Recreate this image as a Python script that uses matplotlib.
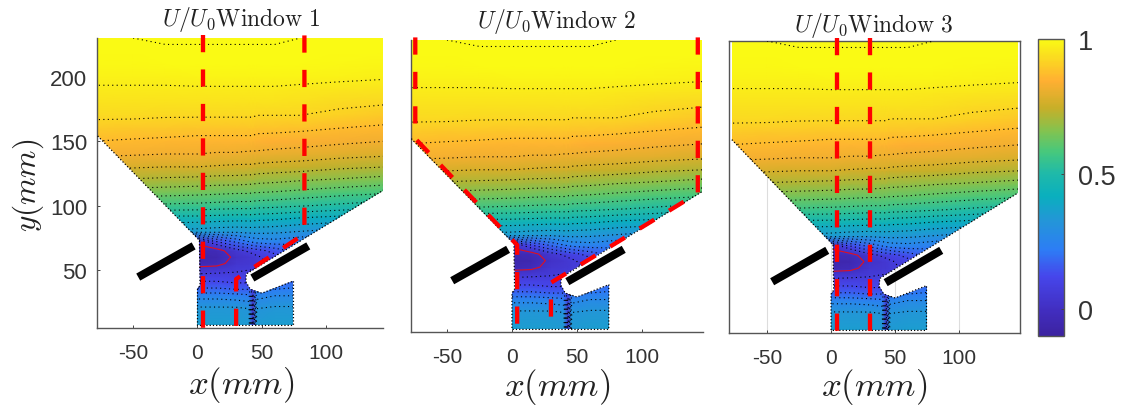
#!/usr/bin/env python3
"""Velocity field U/U0 in three windows, with the window outlines in red."""

import matplotlib
matplotlib.use("Agg")
import matplotlib.pyplot as plt
import numpy as np
from matplotlib.colors import LinearSegmentedColormap
from matplotlib.patches import Polygon

plt.rcParams["font.family"] = ["Liberation Sans", "DejaVu Sans"]
plt.rcParams["mathtext.fontset"] = "cm"

W, H = 1127, 406

X_GRID = [-80, -50, -25, 0, 15, 30, 40, 43, 46, 60, 80, 110, 147]
Y_GRID = [5, 10, 20, 30, 35, 40, 45, 50, 55, 60, 65, 72, 80, 90, 100, 110, 120,
          130, 140, 150, 160, 170, 180, 190, 200, 210, 220, 230]
U_FIELD = [
    [.36, .36, .36, .36, .36, .35, .34, .05, .34, .36, .36, .36, .36],
    [.35, .35, .35, .35, .35, .35, .34, .05, .34, .35, .35, .35, .35],
    [.33, .33, .33, .33, .33, .33, .32, .05, .32, .33, .33, .33, .33],
    [.25, .25, .25, .25, .25, .24, .23, .06, .25, .27, .27, .27, .27],
    [.18, .18, .18, .18, .18, .17, .17, .09, .20, .22, .23, .23, .23],
    [.13, .13, .13, .13, .13, .12, .12, .10, .15, .18, .20, .20, .20],
    [.09, .09, .09, .09, .09, .09, .09, .09, .10, .13, .16, .16, .16],
    [.04, .04, .04, .04, .05, .06, .07, .07, .08, .10, .13, .13, .13],
    [-.04, -.04, -.04, -.04, -.03, .04, .05, .05, .06, .08, .12, .12, .12],
    [-.06, -.06, -.06, -.06, -.05, .02, .04, .05, .06, .10, .13, .13, .13],
    [.20, .18, -.04, -.04, -.03, .05, .08, .09, .10, .14, .20, .16, .14],
    [.30, .28, .10, .02, .12, .18, .22, .23, .24, .25, .23, .20, .18],
    [.38, .37, .36, .35, .34, .335, .34, .34, .34, .335, .32, .30, .28],
    [.47, .46, .45, .45, .445, .44, .44, .44, .435, .43, .415, .40, .38],
    [.57, .565, .56, .555, .55, .545, .545, .545, .54, .535, .525, .51, .49],
    [.65, .645, .64, .635, .63, .625, .625, .62, .62, .615, .605, .59, .575],
    [.72, .715, .71, .705, .70, .70, .695, .695, .69, .685, .675, .665, .65],
    [.78, .775, .77, .77, .765, .76, .76, .76, .755, .75, .745, .73, .72],
    [.83, .825, .82, .82, .815, .815, .81, .81, .81, .805, .80, .79, .78],
    [.87, .865, .86, .855, .855, .855, .855, .855, .85, .845, .84, .83, .82],
    [.90, .895, .895, .89, .89, .89, .89, .89, .885, .885, .88, .87, .86],
    [.93, .93, .925, .925, .925, .925, .925, .925, .92, .92, .92, .91, .895],
    [.945, .945, .945, .945, .945, .945, .945, .945, .945, .945, .94, .93, .925],
    [.965, .965, .965, .965, .965, .965, .965, .965, .965, .965, .96, .955, .95],
    [.98, .98, .98, .985, .985, .985, .985, .985, .985, .985, .985, .98, .975],
    [.995, .995, 1.0, 1.005, 1.005, 1.005, 1.005, 1.005, 1.005, 1.005, 1.0, .995, .99],
    [1.005, 1.01, 1.015, 1.015, 1.015, 1.015, 1.015, 1.015, 1.015, 1.015, 1.01, 1.005, 1.0],
    [1.01, 1.02, 1.025, 1.025, 1.025, 1.025, 1.025, 1.025, 1.025, 1.025, 1.02, 1.015, 1.01],
]
BLACK_LEVELS = [.07, .12, .17, .22, .27, .32, .37, .42, .47, .52, .57, .62, .67,
                .72, .77, .82, .87, .92, .97, 1.02]
RED_LEVELS = [0.0]

# lower edge of the measured area, left top to right top
EDGE_X = [-77.5, 1.5, 2, 0, 0, 74.5, 74.5, 50, 41, 37.5, 38, 146]
EDGE_Y = [154, 73, 38, 35, 7, 7, 41.5, 32, 35, 41, 47, 113]

LEFT_PLATE_X = [-46, -3]
LEFT_PLATE_Y = [44.5, 68.7]
RIGHT_PLATE_X = [42.6, 86]
RIGHT_PLATE_Y = [43.8, 68.7]

# red window outlines, one list of (x, y) runs per panel
WINDOW_1 = [([4.4, 4.4], [232, 5]),
            ([83, 83, 30, 30], [232, 78, 43, 5])]
WINDOW_2 = [([-74.4, -74.4, 4, 4], [232, 154, 72, 5]),
            ([143, 143, 30, 30], [232, 112, 43, 5])]
WINDOW_3 = [([4.6, 4.6], [232, 5]),
            ([30.2, 30.2], [232, 5])]

X_TICKS = [-50, 0, 50, 100]
Y_TICKS = [50, 100, 150, 200]

CMAP_STOPS = [(0.00, "#3c23a0"), (0.08, "#412dbe"), (0.20, "#4646eb"),
              (0.29, "#2d7df5"), (0.39, "#2396d7"), (0.47, "#0aafbe"),
              (0.545, "#1eb9aa"), (0.62, "#46c87d"), (0.69, "#82c350"),
              (0.77, "#c8af28"), (0.86, "#ffaf32"), (0.95, "#fae11e"),
              (1.00, "#fafa14")]
cmap = LinearSegmentedColormap.from_list("field", CMAP_STOPS)


def px_axes(fig, left, right, top, bottom):
    return fig.add_axes([left / W, 1 - bottom / H, (right - left) / W, (bottom - top) / H])


def draw_panel(ax, xlim, window):
    X, Y = np.meshgrid(X_GRID, Y_GRID)
    U = np.array(U_FIELD)
    area = Polygon(list(zip(EDGE_X, EDGE_Y)) + [(146, 230), (-77.5, 230)],
                   transform=ax.transData, fc="none", ec="none")
    ax.add_patch(area)

    mesh = ax.pcolormesh(X, Y, U, cmap=cmap, vmin=-0.1, vmax=1.0, shading="gouraud", zorder=2)
    mesh.set_clip_path(area)
    cs = ax.contour(X, Y, U, levels=BLACK_LEVELS, colors="black", linewidths=0.8,
                    linestyles=[(0, (1, 3))], zorder=3)
    cs.set_clip_path(area)
    red = ax.contour(X, Y, U, levels=RED_LEVELS, colors="#e01020", linewidths=0.8,
                     linestyles="solid", zorder=3)
    red.set_clip_path(area)
    ax.plot(EDGE_X, EDGE_Y, color="black", lw=0.9, ls=(0, (1, 1.6)), zorder=3)

    for xs, ys in window:
        ax.plot(xs, ys, color="#ff0000", lw=3.1, ls=(0, (4, 4)), zorder=4, clip_on=False)

    ax.plot(LEFT_PLATE_X, LEFT_PLATE_Y, color="black", lw=5.8, solid_capstyle="butt", zorder=5)
    ax.plot(RIGHT_PLATE_X, RIGHT_PLATE_Y, color="black", lw=5.8, solid_capstyle="butt", zorder=5)

    ax.set_xlim(*xlim)
    ax.set_ylim(5, 230)
    ax.set_xticks(X_TICKS)
    ax.set_xticklabels(["-50", "0", "50", "100"])
    ax.tick_params(axis="x", direction="in", length=2.5, width=0.7, color="#444444",
                   labelsize=15, labelcolor="#333333", pad=11)
    ax.set_yticks(Y_TICKS)
    ax.tick_params(axis="y", direction="in", length=2.5, width=0.7, color="#444444",
                   labelsize=16, labelcolor="#333333", pad=7)
    for spine in ax.spines.values():
        spine.set_color("#555555")
        spine.set_linewidth(1.0)


def main():
    fig = plt.figure(figsize=(W / 100, H / 100), dpi=100)

    ax1 = px_axes(fig, 97, 383, 39, 329)
    draw_panel(ax1, (-78, 144), WINDOW_1)
    ax1.spines["top"].set_visible(False)
    ax1.spines["right"].set_visible(False)

    ax2 = px_axes(fig, 411, 703, 41, 333)
    draw_panel(ax2, (-77.7, 147), WINDOW_2)
    ax2.set_yticks([])
    ax2.spines["top"].set_visible(False)
    ax2.spines["right"].set_visible(False)

    ax3 = px_axes(fig, 729, 1020, 42, 334)
    draw_panel(ax3, (-79.7, 147.5), WINDOW_3)
    ax3.set_yticks([])
    ax3.tick_params(axis="x", top=True)
    ax3.grid(axis="x", color="#dddddd", lw=0.8, zorder=1)
    ax3.set_axisbelow(True)

    for n, cx, ty in [(1, 241, 20), (2, 557, 22), (3, 874, 25)]:
        fig.text(cx / W, 1 - ty / H, rf"$U/U_0\mathrm{{Window\ {n}}}$", fontsize=17,
                 ha="center", va="center", color="#222222")
    for cx, ty in [(241, 385), (557, 387), (874, 387)]:
        fig.text(cx / W, 1 - ty / H, r"$x(mm)$", fontsize=25, ha="center", va="center",
                 color="#222222")
    fig.text(28 / W, 1 - 185 / H, r"$y(mm)$", fontsize=22.5, rotation=90, ha="center",
             va="center", color="#222222")

    cax = px_axes(fig, 1038, 1064, 40, 337)
    sm = plt.cm.ScalarMappable(cmap=cmap, norm=plt.Normalize(-0.1, 1.0))
    cb = fig.colorbar(sm, cax=cax, ticks=[0, 0.5, 1])
    cb.ax.set_yticklabels(["0", "0.5", "1"])
    cb.ax.tick_params(direction="in", length=2.5, width=0.7, color="#444444",
                      labelsize=19.5, labelcolor="#333333", pad=10)
    cb.outline.set_edgecolor("#555555")
    cb.outline.set_linewidth(1.0)

    fig.savefig("out.png", dpi=100)


if __name__ == "__main__":
    main()
